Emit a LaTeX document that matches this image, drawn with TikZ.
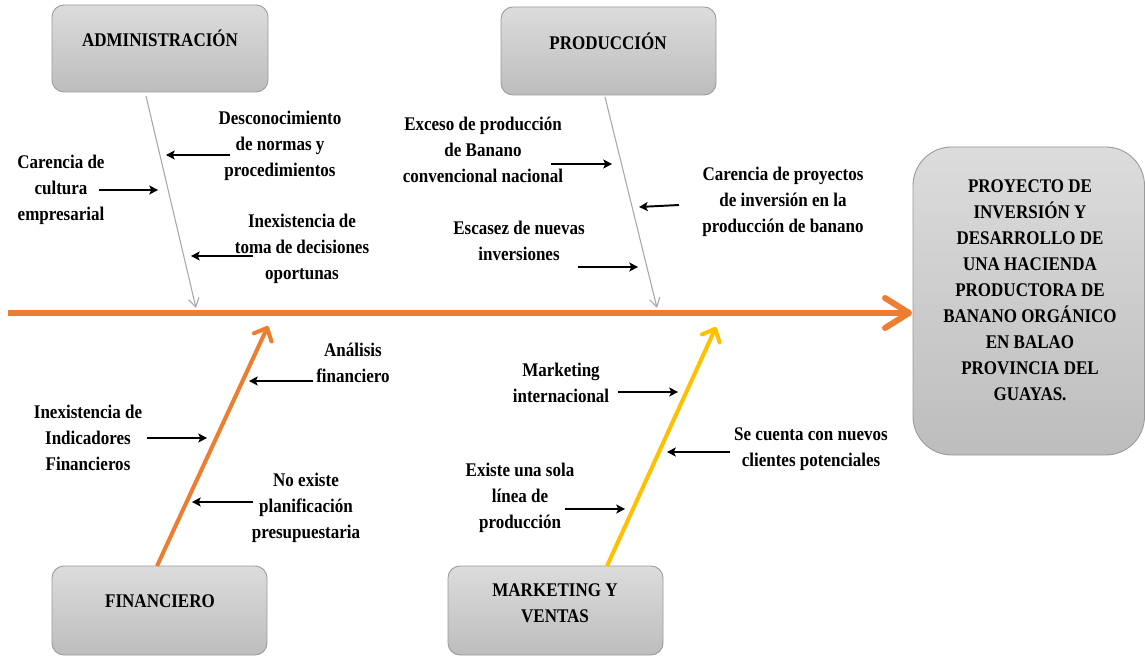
\documentclass[tikz,border=0pt]{standalone}
\usepackage{fontspec}
\setmainfont{Liberation Serif}[FakeStretch=0.88]
\usetikzlibrary{arrows.meta,fit}
\definecolor{spineor}{HTML}{ED7D31}
\definecolor{mktyel}{HTML}{FFC000}
\definecolor{branchgray}{HTML}{A6A6A6}
\definecolor{boxtop}{HTML}{DCDCDC}
\definecolor{boxbot}{HTML}{BDBDBD}
\definecolor{boxline}{HTML}{9A9A9A}
\newcommand{\tightsp}{\spaceskip=0.2em plus 0.1em\relax}
\begin{document}
\begin{tikzpicture}[x=0.02cm,y=-0.02cm,
  txt/.style={font=\bfseries\fontsize{11}{14.8}\selectfont, align=center, inner sep=0pt},
  catbox/.style={draw=boxline, line width=0.5pt, rounded corners=6.8pt, top color=boxtop, bottom color=boxbot, inner sep=0pt},
  goalbox/.style={catbox, rounded corners=22pt},
  cause/.style={line width=1.1pt, -{Stealth[length=5pt,width=5.2pt,inset=1.2pt]}},
  bone/.style={draw=branchgray, line width=0.6pt, -{Straight Barb[length=5pt,width=6pt]}},
  spine/.style={draw=spineor, line width=3.4pt},
  lowbone/.style={line width=2.3pt, -{Straight Barb[length=6pt,width=11pt,round]}}
]
\useasboundingbox (0,0) rectangle (1145,658);

% category boxes
\node[catbox, fit={(52,5) (268,92)}] (adm) {};
\node[txt] (admT) at (160,38) {ADMINISTRACIÓN};
\node[catbox, fit={(501,7) (716,95)}] (prod) {};
\node[txt] (prodT) at (608,41) {PRODUCCIÓN};
\node[catbox, fit={(52,566) (267,655)}] (fin) {};
\node[txt] (finT) at (160,601) {FINANCIERO};
\node[catbox, fit={(448,566) (663,655)}] (mkt) {};
\node[txt] (mktT) at (555,603) {MARKETING Y\\VENTAS};
\node[goalbox, fit={(913,147) (1144.5,455)}] (goal) {};
\node[txt] (goalT) at (1030,290) {PROYECTO DE\\INVERSIÓN Y\\DESARROLLO DE\\UNA HACIENDA\\PRODUCTORA DE\\BANANO ORGÁNICO\\EN BALAO\\PROVINCIA DEL\\GUAYAS.};

% spine
\coordinate (spS) at (8,313);
\coordinate (tip) at (909,313);
\draw[spine] (spS) -- (tip);
\draw[spine, line cap=round, line join=round] (885,298) -- (tip) -- (885,328);

% upper bones
\coordinate (admS) at (146,96);
\coordinate (admE) at (196,308);
\draw[bone] (admS) -- (admE);
\coordinate (prodS) at (605,97);
\coordinate (prodE) at (657,308);
\draw[bone] (prodS) -- (prodE);

% lower bones
\coordinate (finS) at (157,566);
\coordinate (finE) at (268,326);
\draw[lowbone, spineor] (finS) -- (finE);
\coordinate (mktS) at (607,566);
\coordinate (mktE) at (716,327);
\draw[lowbone, mktyel] (mktS) -- (mktE);

% causes: administracion
\node[txt] (desc) at (280,146) {Desconocimiento\\de normas y\\procedimientos};
\coordinate (descA) at (230,155); \coordinate (descB) at (166,155);
\draw[cause] (descA) -- (descB);
\node[txt] (carcul) at (61,190) {Carencia de\\cultura\\empresarial};
\coordinate (carculA) at (99,190); \coordinate (carculB) at (158,190);
\draw[cause] (carculA) -- (carculB);
\node[txt] (inexdec) at (302,249) {\tightsp Inexistencia de\\\tightsp toma de decisiones\\oportunas};
\coordinate (inexdecA) at (253,256); \coordinate (inexdecB) at (191,256);
\draw[cause] (inexdecA) -- (inexdecB);

% causes: produccion
\node[txt] (exceso) at (483,150) {Exceso de producción\\de Banano\\convencional nacional};
\coordinate (excesoA) at (551,164); \coordinate (excesoB) at (612,164);
\draw[cause] (excesoA) -- (excesoB);
\node[txt] (carproy) at (783,202) {Carencia de proyectos\\de inversión en la\\producción de banano};
\coordinate (carproyA) at (679,205); \coordinate (carproyB) at (639,207);
\draw[cause] (carproyA) -- (carproyB);
\node[txt] (escasez) at (519,241) {Escasez de nuevas\\inversiones};
\coordinate (escasezA) at (578,267); \coordinate (escasezB) at (638,267);
\draw[cause] (escasezA) -- (escasezB);

% causes: financiero
\node[txt] (analisis) at (353,363) {Análisis\\financiero};
\coordinate (analisisA) at (313,381); \coordinate (analisisB) at (249,381);
\draw[cause] (analisisA) -- (analisisB);
\node[txt] (inexind) at (88,438) {Inexistencia de\\Indicadores\\Financieros};
\coordinate (inexindA) at (147,438); \coordinate (inexindB) at (207,438);
\draw[cause] (inexindA) -- (inexindB);
\node[txt] (noexiste) at (306,508) {No existe\\planificación\\presupuestaria};
\coordinate (noexisteA) at (253,502); \coordinate (noexisteB) at (192,502);
\draw[cause] (noexisteA) -- (noexisteB);

% causes: marketing
\node[txt] (mkint) at (561,383) {Marketing\\internacional};
\coordinate (mkintA) at (618,392); \coordinate (mkintB) at (678,392);
\draw[cause] (mkintA) -- (mkintB);
\node[txt] (secuenta) at (811,449) {Se cuenta con nuevos\\clientes potenciales};
\coordinate (secuentaA) at (730,452); \coordinate (secuentaB) at (667,452);
\draw[cause] (secuentaA) -- (secuentaB);
\node[txt] (existe) at (520,498) {Existe una sola\\línea de\\producción};
\coordinate (existeA) at (565,509); \coordinate (existeB) at (625,509);
\draw[cause] (existeA) -- (existeB);
\end{tikzpicture}
\end{document}
